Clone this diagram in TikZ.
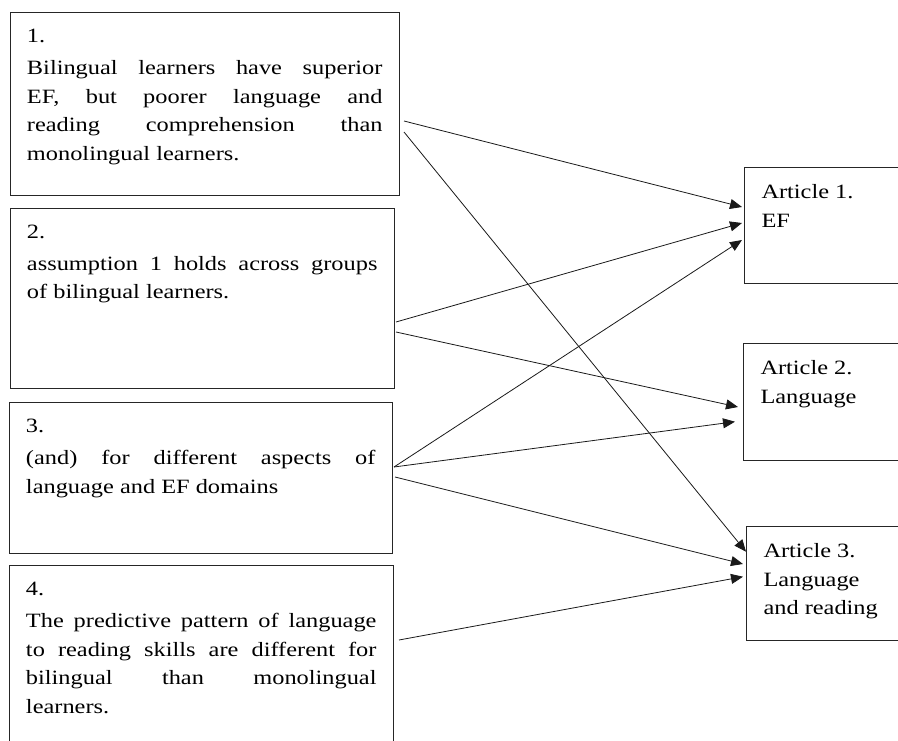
\documentclass[tikz,border=0pt]{standalone}
\usepackage{fontspec}
\setmainfont{Liberation Serif}[FakeStretch=1.2]
\usetikzlibrary{arrows.meta}
\tolerance=10000

\begin{document}
\begin{tikzpicture}[x=1pt,y=-1pt,
  box/.style={draw=black!85, line width=1pt, anchor=north west, inner xsep=17pt, inner ysep=17pt},
  link/.style={-{Triangle[length=12pt,width=10pt]}, line width=0.8pt, black!90},
  font=\fontsize{20.3}{28.5}\selectfont]
% page size, boxes run off the bottom and the right
\useasboundingbox (0,0) rectangle (898,740);
\clip (0,0) rectangle (898,740);

% assumptions on the left
\node[box] (c1) at (9.5,12) {\parbox[t][149pt][t]{355.5pt}{1.\\[3.5pt]
  Bilingual learners have superior\linebreak EF, but poorer language and\linebreak reading comprehension than\linebreak monolingual learners.}};
\node[box] (c2) at (9.5,207.5) {\parbox[t][146pt][t]{350.5pt}{2.\\[3.5pt]
  assumption 1 holds across groups\linebreak of bilingual learners.}};
\node[box] (c3) at (8.5,402) {\parbox[t][117pt][t]{349.5pt}{3.\\[3.5pt]
  (and) for different aspects of\linebreak language and EF domains}};
\node[box] (c4) at (8.5,565) {\parbox[t][161pt][t]{350.5pt}{4.\\[3.5pt]
  The predictive pattern of language\linebreak to reading skills are different for\linebreak bilingual than monolingual\linebreak learners.}};

% articles on the right
\node[box] (a1) at (744,167) {\parbox[t][82pt][t]{150pt}{Article 1.\\EF}};
\node[box] (a2) at (743,343) {\parbox[t][83pt][t]{150pt}{Article 2.\\Language}};
\node[box] (a3) at (746,526) {\parbox[t][80pt][t]{150pt}{Article 3.\\Language\\and reading}};

% links
\draw[link] ([xshift=4pt,yshift=-109pt]c1.north east) -- ([xshift=-2pt,yshift=-40pt]a1.north west);
\draw[link] ([xshift=4pt,yshift=-120pt]c1.north east) -- ([xshift=0pt,yshift=-25.7pt]a3.north west);
\draw[link] ([xshift=1pt,yshift=-114.5pt]c2.north east) -- ([xshift=-2pt,yshift=-56pt]a1.north west);
\draw[link] ([xshift=1pt,yshift=-124.5pt]c2.north east) -- ([xshift=-5pt,yshift=-64pt]a2.north west);
\draw[link] ([xshift=1pt,yshift=-65pt]c3.north east) -- ([xshift=-2pt,yshift=-73pt]a1.north west);
\draw[link] ([xshift=1pt,yshift=-65pt]c3.north east) -- ([xshift=-8pt,yshift=-78.7pt]a2.north west);
\draw[link] ([xshift=2pt,yshift=-75pt]c3.north east) -- ([xshift=-3pt,yshift=-38pt]a3.north west);
\draw[link] ([xshift=5pt,yshift=-75pt]c4.north east) -- ([xshift=-3pt,yshift=-50.7pt]a3.north west);

\end{tikzpicture}
\end{document}
